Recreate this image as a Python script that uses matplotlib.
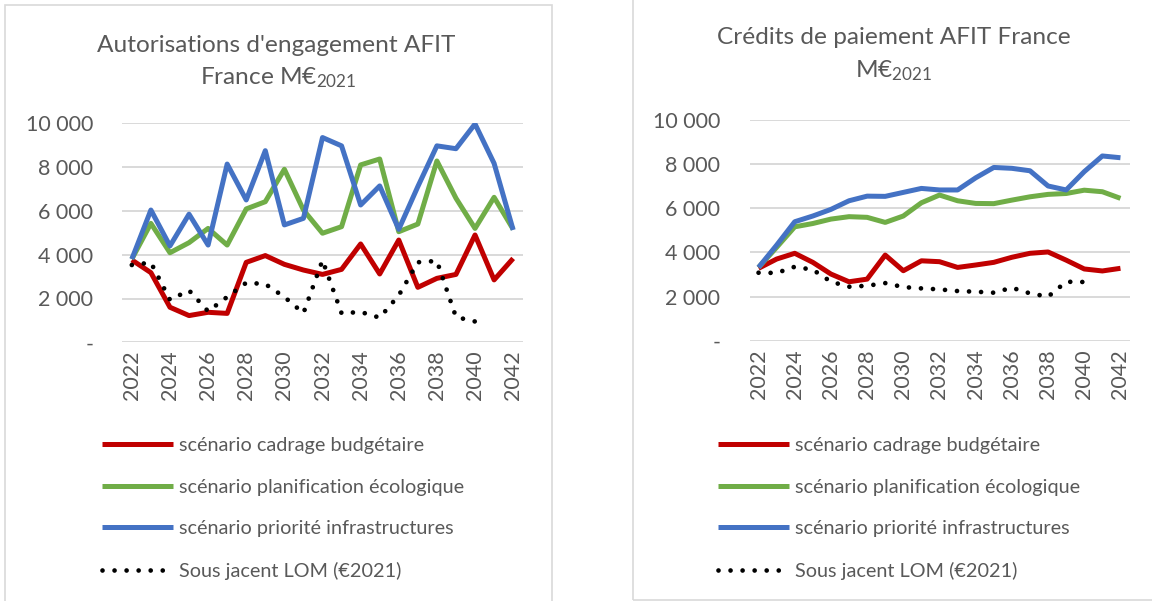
import matplotlib
matplotlib.use("Agg")
import matplotlib.pyplot as plt
import numpy as np
from matplotlib.ticker import FuncFormatter, FixedLocator
from matplotlib.patches import Rectangle

plt.rcParams['font.family'] = ['Lato', 'DejaVu Sans']
plt.rcParams['mathtext.default'] = 'regular'

years = list(range(2022, 2043))
xtick_years = list(range(2022, 2043, 2))
yticks = [0, 2000, 4000, 6000, 8000, 10000]

labels = ["scénario cadrage budgétaire", "scénario planification écologique",
          "scénario priorité infrastructures", "Sous jacent LOM (€2021)"]

# Autorisations d'engagement (M€2021)
ae_cadrage = [3760, 3180, 1600, 1220, 1370, 1320, 3650, 3960, 3560, 3300, 3100,
              3330, 4490, 3120, 4670, 2510, 2920, 3100, 4900, 2850, 3830]
ae_planif = [3800, 5430, 4090, 4550, 5200, 4440, 6090, 6420, 7900, 6040, 4980,
             5280, 8100, 8370, 5050, 5400, 8280, 6580, 5200, 6620, 5160]
ae_infra = [3800, 6040, 4400, 5850, 4440, 8140, 6500, 8750, 5360, 5660, 9350,
            8970, 6270, 7140, 5160, 7110, 8970, 8840, 9970, 8170, 5130]
ae_lom = [3530, 3640, 1940, 2370, 1415, 2070, 2720, 2660, 2070, 1330, 3745,
          1325, 1385, 1125, 2145, 3655, 3715, 1155, 950]

# Crédits de paiement (M€2021)
cp_cadrage = [3280, 3700, 3960, 3550, 3020, 2670, 2790, 3880, 3170, 3620, 3580,
              3320, 3430, 3550, 3780, 3960, 4020, 3650, 3250, 3160, 3280]
cp_planif = [3320, 4230, 5160, 5310, 5510, 5620, 5590, 5360, 5650, 6250, 6600,
             6340, 6220, 6210, 6370, 6520, 6630, 6670, 6820, 6750, 6450]
cp_infra = [3320, 4330, 5390, 5650, 5950, 6340, 6550, 6540, 6720, 6900, 6830,
            6830, 7380, 7850, 7810, 7700, 7010, 6830, 7660, 8370, 8290]
cp_lom = [3080, 3070, 3350, 3215, 2675, 2445, 2490, 2610, 2430, 2370, 2325,
          2250, 2220, 2175, 2400, 2145, 1995, 2670, 2660]

colors = ['#C00000', '#70AD47', '#4472C4', '#000000']
TXT = '#595959'
GRID = '#D9D9D9'
W, H = 1152, 601

fig = plt.figure(figsize=(W / 100, H / 100), dpi=100)

# panel borders
fig.patches.append(Rectangle((5 / W, 1 - 640 / H), 547 / W, 635 / H, transform=fig.transFigure,
                             fill=False, edgecolor=GRID, lw=1.2))
fig.patches.append(Rectangle((633 / W, 1 - 600 / H), 560 / W, 640 / H, transform=fig.transFigure,
                             fill=False, edgecolor=GRID, lw=1.2))


def fmt(v, pos):
    if v == 0:
        return '-'
    return f"{int(v):,}".replace(',', ' ')


def draw(ax, series, lom):
    lines = []
    for s, c in zip(series, colors[:3]):
        l, = ax.plot(years, s, color=c, lw=3.6, solid_joinstyle='round', solid_capstyle='butt')
        lines.append(l)
    l, = ax.plot(years[:len(lom)], lom, color='black', lw=3.4,
                 linestyle=(0, (0.001, 2.55)), dash_capstyle='round')
    lines.append(l)
    ax.set_xlim(2021.5, 2042.5)
    ax.set_ylim(0, 10000)
    ax.yaxis.set_major_locator(FixedLocator(yticks))
    ax.yaxis.set_major_formatter(FuncFormatter(fmt))
    ax.set_xticks(xtick_years)
    ax.set_xticklabels([str(y) for y in xtick_years], rotation=90)
    for sp in ax.spines.values():
        sp.set_visible(False)
    ax.grid(axis='y', color=GRID, lw=1.4)
    ax.set_axisbelow(True)
    ax.tick_params(axis='y', length=0, pad=21, labelsize=15.5, labelcolor=TXT)
    ax.tick_params(axis='x', length=0, pad=6, labelsize=15.5, labelcolor=TXT)
    return lines


ax1 = fig.add_axes([122.3 / W, 1 - 342.3 / H, 400.4 / W, 219.0 / H])
l1 = draw(ax1, [ae_cadrage, ae_planif, ae_infra], ae_lom)
ax2 = fig.add_axes([749.5 / W, 1 - 340.7 / H, 380.0 / W, 220.7 / H])
l2 = draw(ax2, [cp_cadrage, cp_planif, cp_infra], cp_lom)

# titles
fig.text(276 / W, 1 - 46 / H, "Autorisations d'engagement AFIT", ha='center', va='center',
         fontsize=17.6, color=TXT)
fig.text(278 / W, 1 - 78 / H, "France M€$_{2021}$", ha='center', va='center',
         fontsize=17.6, color=TXT)
fig.text(894 / W, 1 - 37 / H, "Crédits de paiement AFIT France", ha='center', va='center',
         fontsize=17.6, color=TXT)
fig.text(894 / W, 1 - 71 / H, "M€$_{2021}$", ha='center', va='center',
         fontsize=17.6, color=TXT)

# legends
for lines, x0 in [(l1, 102), (l2, 718)]:
    leg = fig.legend(lines, labels, loc='upper left', bbox_to_anchor=(x0 / W, 1 - 437 / H),
                     frameon=False, fontsize=14.3, handlelength=3.55, handletextpad=0.35,
                     labelspacing=1.24, borderpad=0, borderaxespad=0)
    for t in leg.get_texts():
        t.set_color(TXT)

fig.savefig('out.png', dpi=100)
